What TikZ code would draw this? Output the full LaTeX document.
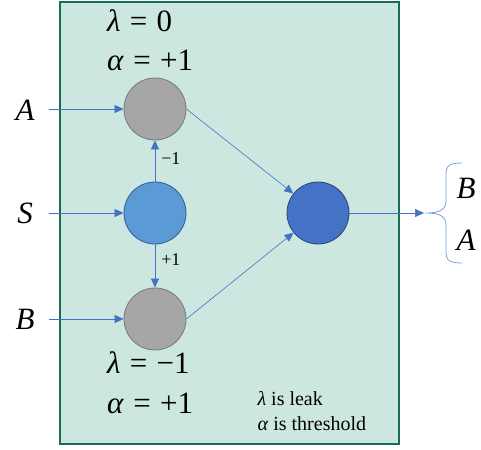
\documentclass[tikz,border=0pt]{standalone}
\usepackage{fontspec}
\setmainfont{Liberation Serif}
\usetikzlibrary{arrows.meta}
\definecolor{boxfill}{RGB}{204,231,224}
\definecolor{boxline}{RGB}{22,110,90}
\definecolor{wire}{RGB}{68,114,196}
\definecolor{graynode}{RGB}{166,166,166}
\definecolor{grayline}{RGB}{120,120,120}
\definecolor{midblue}{RGB}{91,155,213}
\definecolor{darkblue}{RGB}{68,114,196}
\definecolor{bracecol}{RGB}{120,160,220}
\newcommand{\eqsp}{\hspace{0.3em}}
\tikzset{
  neuron/.style={circle,minimum size=62pt,inner sep=0pt,line width=0.8pt},
  grayn/.style={neuron,fill=graynode,draw=grayline},
  midn/.style={neuron,fill=midblue,draw=wire!80!black},
  outn/.style={neuron,fill=darkblue,draw=wire!60!black},
  conn/.style={draw=wire,line width=0.6pt,-{Triangle[length=9pt,width=8pt]}},
  big/.style={font=\fontsize{31}{35}\selectfont},
  param/.style={big,anchor=west,inner sep=0pt},
  edgelab/.style={font=\fontsize{18}{21}\selectfont,anchor=west,inner sep=0pt,xshift=6pt},
  note/.style={font=\fontsize{20}{23}\selectfont,anchor=west}
}
\begin{document}
\begin{tikzpicture}[x=1pt,y=-1pt]
\useasboundingbox (0,0) rectangle (481,449);
\fill[boxfill] (60,2) rectangle (399,444);
\draw[boxline,line width=1.2pt] (60,2) rectangle (399,444);
\node[grayn] (ga) at (155,109) {};
\node[midn] (s) at (155,213) {};
\node[grayn] (gb) at (155,319) {};
\node[outn] (o) at (318,213) {};
\node[big] (la) at (25,110) {\itshape A};
\node[big] (ls) at (25,213) {\itshape S};
\node[big] (lb) at (25,319) {\itshape B};
\coordinate (ina) at (49,109);
\coordinate (ins) at (49,213);
\coordinate (inb) at (49,319);
\draw[conn] (ina) -- (ga);
\draw[conn] (ins) -- (s);
\draw[conn] (inb) -- (gb);
\draw[conn] (s) -- node[edgelab,pos=0.57] {−1} (ga);
\draw[conn] (s) -- node[edgelab,pos=0.36] {+1} (gb);
\draw[conn] (ga.east) -- (o);
\draw[conn] (gb.east) -- (o);
\coordinate (out) at (424,213);
\draw[conn] (o) -- (out);
\draw[bracecol,line width=0.8pt] (462,163) .. controls (445,163) and (446,168) .. (446,180) -- (446,200) .. controls (446,210) and (440,213) .. (425,213) .. controls (440,213) and (446,216) .. (446,226) -- (446,246) .. controls (446,258) and (445,263) .. (462,263);
\node[big] (ob) at (466,188) {\itshape B};
\node[big] (oa) at (466,240) {\itshape A};
\node[param] (t1) at (107,21) {\textit{λ}\eqsp=\eqsp0};
\node[param] (t2) at (107,60) {\textit{α}\eqsp=\eqsp+1};
\node[param] (t3) at (107,363) {\textit{λ}\eqsp=\eqsp−1};
\node[param] (t4) at (107,403) {\textit{α}\eqsp=\eqsp+1};
\node[note] (n1) at (254,399) {\textit{λ} is leak};
\node[note] (n2) at (254,424) {\textit{α} is threshold};
\end{tikzpicture}
\end{document}
